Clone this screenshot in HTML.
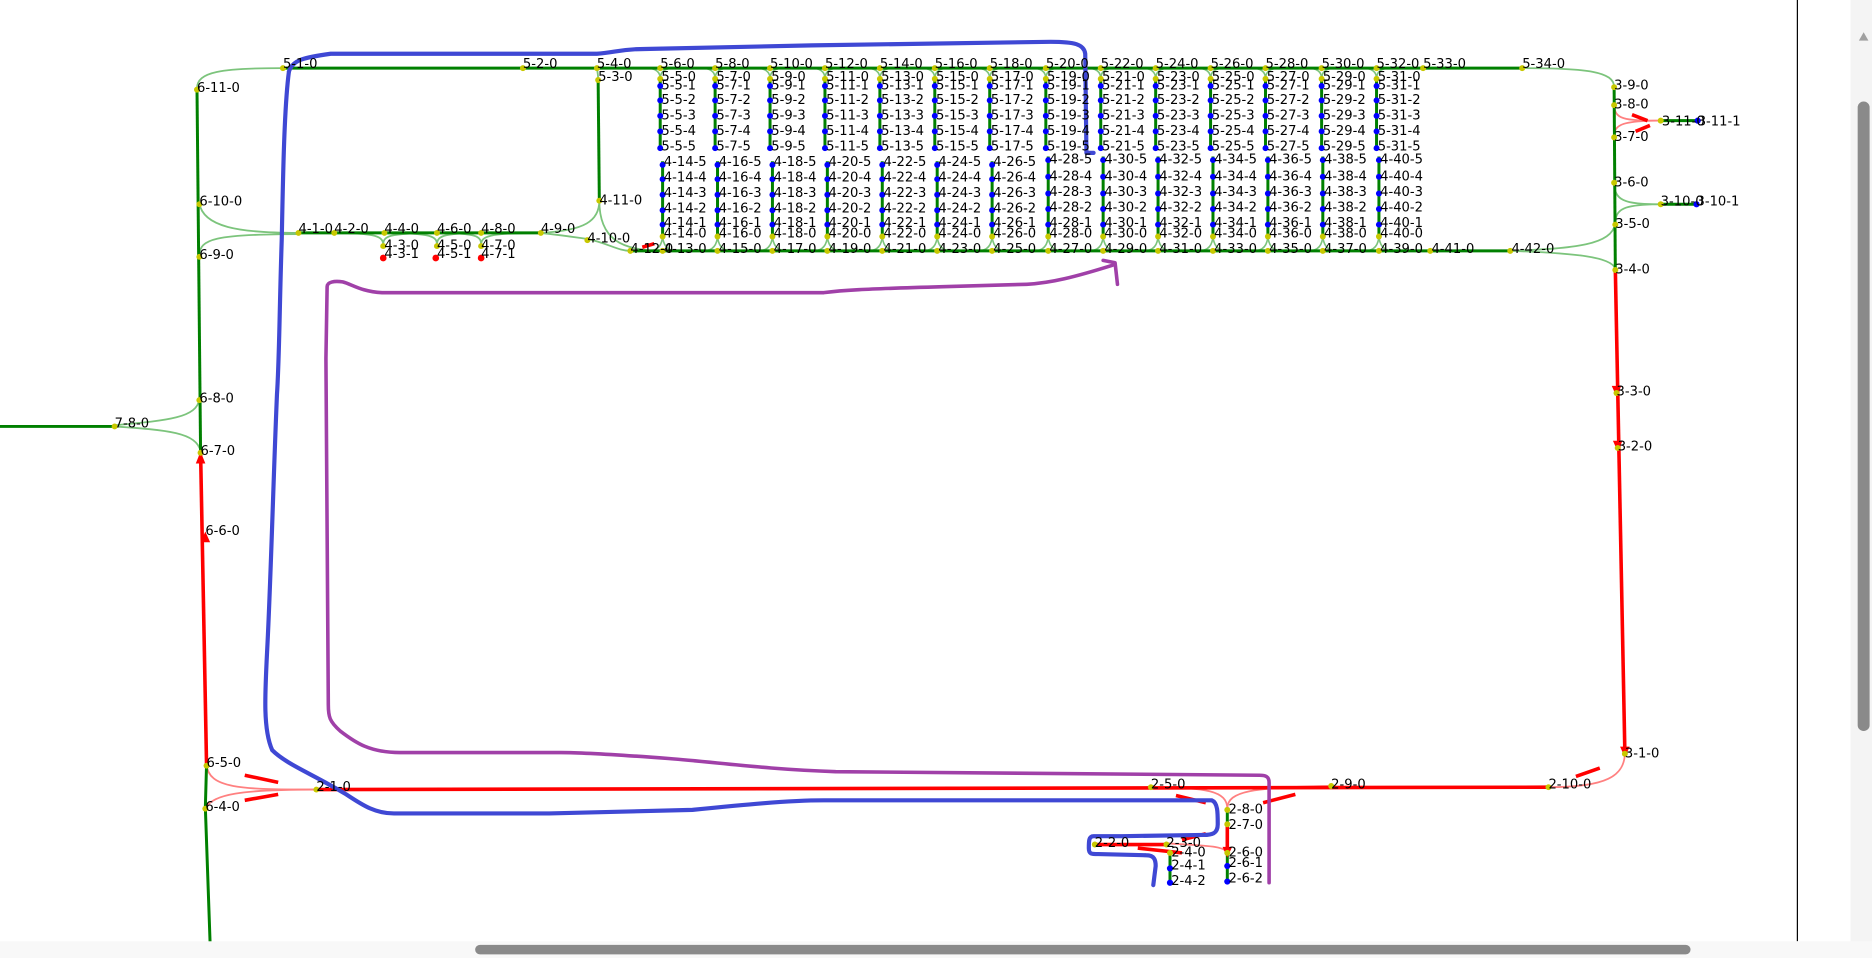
<!DOCTYPE html>
<html><head><meta charset="utf-8"><style>
html,body{margin:0;padding:0;background:#fff;width:1872px;height:958px;overflow:hidden}
svg{display:block}
text{font-family:"DejaVu Sans","Liberation Sans",sans-serif;font-size:11px;fill:#000}
</style></head><body>
<svg width="1872" height="958" viewBox="0 0 1568 802" preserveAspectRatio="none">
<rect x="0" y="0" width="1568" height="802" fill="#fff"/>
<g fill="none" stroke="#7cc47c" stroke-width="1.5">
<path d="M237,57 C185,57 165,60 165,74"/>
<path d="M167,170 C170,190 200,195 250,195"/>
<path d="M167,214 C167,200 180,196 250,196"/>
<path d="M96,356 C140,352 165,350 167,334"/>
<path d="M96,357 C140,360 165,362 168,378"/>
<path d="M453,195 C490,193 502,185 502,168"/>
<path d="M453,195 C480,198 490,200 492,200 C510,204 518,210 528,210"/>
<path d="M502,168 C502,200 520,210 555,210"/>
<path d="M500,57 C500,58 501,62 501,66"/>
<path d="M280,195 C315,195 321,198 321,205"/><path d="M366,195 C324,195 321,198 321,205"/>
<path d="M322,195 C362,195 366,198 366,205"/><path d="M403,195 C370,195 366,198 366,205"/>
<path d="M366,195 C400,195 403,198 403,205"/><path d="M453,195 C408,195 403,198 403,205"/>
<path d="M1275,57 C1330,57 1352,60 1352,73"/>
<path d="M1265,210 C1320,208 1350,205 1353,187"/>
<path d="M1265,210 C1320,212 1350,215 1353,225"/>
<path d="M1352,152 C1352,168 1360,171 1391,171"/>
<path d="M1353,187 C1353,175 1360,171 1391,171"/>
</g>
<g fill="none" stroke="#7cc47c" stroke-width="1.3">
<path d="M541,57 Q553,57 553,66"/><path d="M587,57 Q599,57 599,66"/><path d="M633,57 Q645,57 645,66"/><path d="M679,57 Q691,57 691,66"/><path d="M725,57 Q737,57 737,66"/><path d="M771,57 Q783,57 783,66"/><path d="M817,57 Q829,57 829,66"/><path d="M864,57 Q876,57 876,66"/><path d="M910,57 Q922,57 922,66"/><path d="M956,57 Q968,57 968,66"/><path d="M1002,57 Q1014,57 1014,66"/><path d="M1048,57 Q1060,57 1060,66"/><path d="M1095,57 Q1107,57 1107,66"/><path d="M1141,57 Q1153,57 1153,66"/>
<path d="M565,57 Q553,57 553,66"/><path d="M611,57 Q599,57 599,66"/><path d="M657,57 Q645,57 645,66"/><path d="M703,57 Q691,57 691,66"/><path d="M749,57 Q737,57 737,66"/><path d="M795,57 Q783,57 783,66"/><path d="M841,57 Q829,57 829,66"/><path d="M888,57 Q876,57 876,66"/><path d="M934,57 Q922,57 922,66"/><path d="M980,57 Q968,57 968,66"/><path d="M1026,57 Q1014,57 1014,66"/><path d="M1072,57 Q1060,57 1060,66"/><path d="M1119,57 Q1107,57 1107,66"/><path d="M1165,57 Q1153,57 1153,66"/>
<path d="M543,210 Q555,210 555,196"/><path d="M589,210 Q601,210 601,196"/><path d="M635,210 Q647,210 647,196"/><path d="M681,210 Q693,210 693,196"/><path d="M727,210 Q739,210 739,196"/><path d="M773,210 Q785,210 785,196"/><path d="M819,210 Q831,210 831,196"/><path d="M866,210 Q878,210 878,196"/><path d="M912,210 Q924,210 924,196"/><path d="M958,210 Q970,210 970,196"/><path d="M1004,210 Q1016,210 1016,196"/><path d="M1050,210 Q1062,210 1062,196"/><path d="M1096,210 Q1108,210 1108,196"/><path d="M1143,210 Q1155,210 1155,196"/>
<path d="M567,210 Q555,210 555,196"/><path d="M613,210 Q601,210 601,196"/><path d="M659,210 Q647,210 647,196"/><path d="M705,210 Q693,210 693,196"/><path d="M751,210 Q739,210 739,196"/><path d="M797,210 Q785,210 785,196"/><path d="M843,210 Q831,210 831,196"/><path d="M890,210 Q878,210 878,196"/><path d="M936,210 Q924,210 924,196"/><path d="M982,210 Q970,210 970,196"/><path d="M1028,210 Q1016,210 1016,196"/><path d="M1074,210 Q1062,210 1062,196"/><path d="M1120,210 Q1108,210 1108,196"/><path d="M1167,210 Q1155,210 1155,196"/>
</g>
<g fill="none" stroke="#ff8080" stroke-width="1.5">
<path d="M173,640 C175,660 200,661 265,661"/>
<path d="M172,676 C180,665 200,661 265,661"/>
<path d="M1361,630 C1361,650 1345,659 1297,659"/>
<path d="M964,659 C1010,659 1028,662 1028,677"/>
<path d="M1115,658 C1050,659 1028,662 1028,677"/>
<path d="M977,706 C1010,708 1028,708 1028,715"/>
<path d="M1352,87 C1352,100 1360,101 1391,101"/>
<path d="M1352,114 C1352,104 1360,101 1391,101"/>
</g>
<g fill="none" stroke="#008000" stroke-width="2.5">
<path d="M237,57 L1275,57"/>
<path d="M165,74 L168,378"/>
<path d="M173,640 L172,676 L176,790"/>
<path d="M0,357 L96,357"/>
<path d="M250,195 L453,195"/>
<path d="M501,66 L502,168"/>
<path d="M528,210 L1265,210"/>
<path d="M1352,73 L1353,225"/>
<path d="M1391,101 L1422,101"/><path d="M1391,171 L1421,171"/>
<path d="M1028,677 L1028,690"/><path d="M1028,715 L1028,738"/><path d="M980,714 L980,739"/>
<path d="M553,66V124M599,66V124M645,66V124M691,66V124M737,66V124M783,66V124M829,66V124M876,66V124M922,66V124M968,66V124M1014,66V124M1060,66V124M1107,66V124M1153,66V124"/>
<path d="M555,135V196M601,135V196M647,135V196M693,135V196M739,135V196M785,135V196M831,135V196M878,131V196M924,131V196M970,131V196M1016,131V196M1062,131V196M1108,131V196M1155,131V196"/>
</g>
<g fill="none" stroke="#ff0000" stroke-width="3">
<path d="M173,640 L168,378"/>
<path d="M1353,225 L1361,630"/>
<path d="M265,661 L1297,659"/>
<path d="M1028,690 L1028,715"/>
<path d="M917,707 L977,707"/>
<path d="M205,649 L233,655"/><path d="M205,670 L233,665"/>
<path d="M1320,650 L1340,643"/>
<path d="M985,666 L1010,672"/><path d="M1058,672 L1085,665"/>
<path d="M953,710 L990,714"/><path d="M990,703 L1010,698"/>
<path d="M1367,96 L1380,101"/><path d="M1370,110 L1382,105"/>
<path d="M538,207 L548,204"/>
</g>
<g fill="#ff0000">
<path d="M168,378 l-4,10 l8,0z"/><path d="M172,445 l-4,9 l8,0z"/>
<path d="M1354,332 l-4,-9 l8,0z"/><path d="M1355,378 l-4,-9 l8,0z"/><path d="M1361,634 l-4,-9 l8,0z"/>
<path d="M1028,718 l-4,-9 l8,0z"/>
<circle cx="321" cy="216" r="2.8"/><circle cx="365" cy="216" r="2.8"/><circle cx="403" cy="216" r="2.8"/>
</g>
<g fill="none" stroke="#3f48d4" stroke-width="3.5" stroke-linejoin="round" stroke-linecap="round">
<path d="M242,60 C238,90 237,150 236,200 C234,260 234,300 232,330 C229,400 227,480 224,540 C222,580 220,610 228,628 C240,640 262,648 290,665 C305,675 315,681 330,681 L460,681 L580,678 C620,674 660,670 690,670 L1015,670 C1020,672 1020,680 1020,690 C1020,698 1015,699 1008,699 L940,700 L916,700 C912,700 912,704 912,710 C912,715 914,715 920,715 L960,716 C967,716 968,720 968,725 L966,741"/>
<path d="M242,60 C245,50 255,48 277,45 L500,45 C515,44 520,41 540,41 L680,38 L880,35 C900,35 908,37 909,45 L910,128 L916,128"/>
</g>
<g fill="none" stroke="#a040a8" stroke-width="3" stroke-linejoin="round" stroke-linecap="round">
<path d="M1063,739 L1063,655 C1063,650 1060,649 1055,649 L700,646 C640,644 600,638 560,635 C520,632 490,630 470,630 L335,630 C310,630 298,622 285,612 C276,604 275,600 275,590 L273,300 L274,240 C274,236 280,235 287,236 C295,238 302,244 320,245 L690,245 C705,243 720,242 790,240 L860,238 C880,237 900,232 932,222"/>
<path d="M924,218 L934,220 L936,238"/>
</g>
<g fill="#c8c800">
<circle cx="237" cy="57" r="2.5"/><circle cx="438" cy="57" r="2.5"/><circle cx="500" cy="57" r="2.5"/><circle cx="501" cy="67" r="2.5"/>
<circle cx="553" cy="57" r="2.5"/><circle cx="599" cy="57" r="2.5"/><circle cx="645" cy="57" r="2.5"/><circle cx="691" cy="57" r="2.5"/><circle cx="737" cy="57" r="2.5"/><circle cx="783" cy="57" r="2.5"/><circle cx="829" cy="57" r="2.5"/><circle cx="876" cy="57" r="2.5"/><circle cx="922" cy="57" r="2.5"/><circle cx="968" cy="57" r="2.5"/><circle cx="1014" cy="57" r="2.5"/><circle cx="1060" cy="57" r="2.5"/><circle cx="1107" cy="57" r="2.5"/><circle cx="1153" cy="57" r="2.5"/><circle cx="1192" cy="57" r="2.5"/><circle cx="1275" cy="57" r="2.5"/>
<circle cx="553" cy="66" r="2.5"/><circle cx="599" cy="66" r="2.5"/><circle cx="645" cy="66" r="2.5"/><circle cx="691" cy="66" r="2.5"/><circle cx="737" cy="66" r="2.5"/><circle cx="783" cy="66" r="2.5"/><circle cx="829" cy="66" r="2.5"/><circle cx="876" cy="66" r="2.5"/><circle cx="922" cy="66" r="2.5"/><circle cx="968" cy="66" r="2.5"/><circle cx="1014" cy="66" r="2.5"/><circle cx="1060" cy="66" r="2.5"/><circle cx="1107" cy="66" r="2.5"/><circle cx="1153" cy="66" r="2.5"/>
<circle cx="555" cy="198" r="2.5"/><circle cx="601" cy="198" r="2.5"/><circle cx="647" cy="198" r="2.5"/><circle cx="693" cy="198" r="2.5"/><circle cx="739" cy="198" r="2.5"/><circle cx="785" cy="198" r="2.5"/><circle cx="831" cy="198" r="2.5"/><circle cx="878" cy="198" r="2.5"/><circle cx="924" cy="198" r="2.5"/><circle cx="970" cy="198" r="2.5"/><circle cx="1016" cy="198" r="2.5"/><circle cx="1062" cy="198" r="2.5"/><circle cx="1108" cy="198" r="2.5"/><circle cx="1155" cy="198" r="2.5"/>
<circle cx="528" cy="210" r="2.5"/><circle cx="555" cy="210" r="2.5"/><circle cx="601" cy="210" r="2.5"/><circle cx="647" cy="210" r="2.5"/><circle cx="693" cy="210" r="2.5"/><circle cx="739" cy="210" r="2.5"/><circle cx="785" cy="210" r="2.5"/><circle cx="831" cy="210" r="2.5"/><circle cx="878" cy="210" r="2.5"/><circle cx="924" cy="210" r="2.5"/><circle cx="970" cy="210" r="2.5"/><circle cx="1016" cy="210" r="2.5"/><circle cx="1062" cy="210" r="2.5"/><circle cx="1108" cy="210" r="2.5"/><circle cx="1155" cy="210" r="2.5"/><circle cx="1198" cy="210" r="2.5"/><circle cx="1265" cy="210" r="2.5"/>
<circle cx="165" cy="75" r="2.5"/><circle cx="167" cy="171" r="2.5"/><circle cx="167" cy="215" r="2.5"/><circle cx="167" cy="335" r="2.5"/><circle cx="168" cy="379" r="2.5"/><circle cx="96" cy="357" r="2.5"/>
<circle cx="173" cy="641" r="2.5"/><circle cx="172" cy="677" r="2.5"/>
<circle cx="250" cy="195" r="2.5"/><circle cx="280" cy="195" r="2.5"/><circle cx="322" cy="195" r="2.5"/><circle cx="366" cy="195" r="2.5"/><circle cx="403" cy="195" r="2.5"/><circle cx="453" cy="195" r="2.5"/>
<circle cx="321" cy="206" r="2.5"/><circle cx="366" cy="206" r="2.5"/><circle cx="403" cy="206" r="2.5"/>
<circle cx="502" cy="168" r="2.5"/><circle cx="492" cy="201" r="2.5"/>
<circle cx="1352" cy="73" r="2.5"/><circle cx="1352" cy="88" r="2.5"/><circle cx="1352" cy="115" r="2.5"/><circle cx="1352" cy="153" r="2.5"/><circle cx="1353" cy="188" r="2.5"/><circle cx="1353" cy="226" r="2.5"/>
<circle cx="1391" cy="101" r="2.5"/><circle cx="1391" cy="171" r="2.5"/>
<circle cx="1354" cy="329" r="2.5"/><circle cx="1355" cy="375" r="2.5"/><circle cx="1361" cy="631" r="2.5"/>
<circle cx="265" cy="661" r="2.5"/><circle cx="964" cy="659" r="2.5"/><circle cx="1115" cy="658" r="2.5"/><circle cx="1297" cy="659" r="2.5"/>
<circle cx="1028" cy="678" r="2.5"/><circle cx="1028" cy="690" r="2.5"/><circle cx="1028" cy="714" r="2.5"/>
<circle cx="917" cy="707" r="2.5"/><circle cx="977" cy="707" r="2.5"/><circle cx="980" cy="714" r="2.5"/>
</g>
<g fill="#0000ff">
<circle cx="1422" cy="101" r="2.6"/><circle cx="1421" cy="171" r="2.6"/>
<circle cx="1028" cy="725" r="2.6"/><circle cx="1028" cy="738" r="2.6"/><circle cx="980" cy="727" r="2.6"/><circle cx="980" cy="739" r="2.6"/>
<circle cx="553" cy="72" r="2.5"/><circle cx="553" cy="84" r="2.5"/><circle cx="553" cy="97" r="2.5"/><circle cx="553" cy="110" r="2.5"/><circle cx="553" cy="124" r="2.5"/>
<circle cx="599" cy="72" r="2.5"/><circle cx="599" cy="84" r="2.5"/><circle cx="599" cy="97" r="2.5"/><circle cx="599" cy="110" r="2.5"/><circle cx="599" cy="124" r="2.5"/>
<circle cx="645" cy="72" r="2.5"/><circle cx="645" cy="84" r="2.5"/><circle cx="645" cy="97" r="2.5"/><circle cx="645" cy="110" r="2.5"/><circle cx="645" cy="124" r="2.5"/>
<circle cx="691" cy="72" r="2.5"/><circle cx="691" cy="84" r="2.5"/><circle cx="691" cy="97" r="2.5"/><circle cx="691" cy="110" r="2.5"/><circle cx="691" cy="124" r="2.5"/>
<circle cx="737" cy="72" r="2.5"/><circle cx="737" cy="84" r="2.5"/><circle cx="737" cy="97" r="2.5"/><circle cx="737" cy="110" r="2.5"/><circle cx="737" cy="124" r="2.5"/>
<circle cx="783" cy="72" r="2.5"/><circle cx="783" cy="84" r="2.5"/><circle cx="783" cy="97" r="2.5"/><circle cx="783" cy="110" r="2.5"/><circle cx="783" cy="124" r="2.5"/>
<circle cx="829" cy="72" r="2.5"/><circle cx="829" cy="84" r="2.5"/><circle cx="829" cy="97" r="2.5"/><circle cx="829" cy="110" r="2.5"/><circle cx="829" cy="124" r="2.5"/>
<circle cx="876" cy="72" r="2.5"/><circle cx="876" cy="84" r="2.5"/><circle cx="876" cy="97" r="2.5"/><circle cx="876" cy="110" r="2.5"/><circle cx="876" cy="124" r="2.5"/>
<circle cx="922" cy="72" r="2.5"/><circle cx="922" cy="84" r="2.5"/><circle cx="922" cy="97" r="2.5"/><circle cx="922" cy="110" r="2.5"/><circle cx="922" cy="124" r="2.5"/>
<circle cx="968" cy="72" r="2.5"/><circle cx="968" cy="84" r="2.5"/><circle cx="968" cy="97" r="2.5"/><circle cx="968" cy="110" r="2.5"/><circle cx="968" cy="124" r="2.5"/>
<circle cx="1014" cy="72" r="2.5"/><circle cx="1014" cy="84" r="2.5"/><circle cx="1014" cy="97" r="2.5"/><circle cx="1014" cy="110" r="2.5"/><circle cx="1014" cy="124" r="2.5"/>
<circle cx="1060" cy="72" r="2.5"/><circle cx="1060" cy="84" r="2.5"/><circle cx="1060" cy="97" r="2.5"/><circle cx="1060" cy="110" r="2.5"/><circle cx="1060" cy="124" r="2.5"/>
<circle cx="1107" cy="72" r="2.5"/><circle cx="1107" cy="84" r="2.5"/><circle cx="1107" cy="97" r="2.5"/><circle cx="1107" cy="110" r="2.5"/><circle cx="1107" cy="124" r="2.5"/>
<circle cx="1153" cy="72" r="2.5"/><circle cx="1153" cy="84" r="2.5"/><circle cx="1153" cy="97" r="2.5"/><circle cx="1153" cy="110" r="2.5"/><circle cx="1153" cy="124" r="2.5"/>
<circle cx="555" cy="138" r="2.5"/><circle cx="555" cy="150" r="2.5"/><circle cx="555" cy="163" r="2.5"/><circle cx="555" cy="176" r="2.5"/><circle cx="555" cy="188" r="2.5"/>
<circle cx="601" cy="138" r="2.5"/><circle cx="601" cy="150" r="2.5"/><circle cx="601" cy="163" r="2.5"/><circle cx="601" cy="176" r="2.5"/><circle cx="601" cy="188" r="2.5"/>
<circle cx="647" cy="138" r="2.5"/><circle cx="647" cy="150" r="2.5"/><circle cx="647" cy="163" r="2.5"/><circle cx="647" cy="176" r="2.5"/><circle cx="647" cy="188" r="2.5"/>
<circle cx="693" cy="138" r="2.5"/><circle cx="693" cy="150" r="2.5"/><circle cx="693" cy="163" r="2.5"/><circle cx="693" cy="176" r="2.5"/><circle cx="693" cy="188" r="2.5"/>
<circle cx="739" cy="138" r="2.5"/><circle cx="739" cy="150" r="2.5"/><circle cx="739" cy="163" r="2.5"/><circle cx="739" cy="176" r="2.5"/><circle cx="739" cy="188" r="2.5"/>
<circle cx="785" cy="138" r="2.5"/><circle cx="785" cy="150" r="2.5"/><circle cx="785" cy="163" r="2.5"/><circle cx="785" cy="176" r="2.5"/><circle cx="785" cy="188" r="2.5"/>
<circle cx="831" cy="138" r="2.5"/><circle cx="831" cy="150" r="2.5"/><circle cx="831" cy="163" r="2.5"/><circle cx="831" cy="176" r="2.5"/><circle cx="831" cy="188" r="2.5"/>
<circle cx="878" cy="134" r="2.5"/><circle cx="878" cy="148" r="2.5"/><circle cx="878" cy="162" r="2.5"/><circle cx="878" cy="175" r="2.5"/><circle cx="878" cy="188" r="2.5"/>
<circle cx="924" cy="134" r="2.5"/><circle cx="924" cy="148" r="2.5"/><circle cx="924" cy="162" r="2.5"/><circle cx="924" cy="175" r="2.5"/><circle cx="924" cy="188" r="2.5"/>
<circle cx="970" cy="134" r="2.5"/><circle cx="970" cy="148" r="2.5"/><circle cx="970" cy="162" r="2.5"/><circle cx="970" cy="175" r="2.5"/><circle cx="970" cy="188" r="2.5"/>
<circle cx="1016" cy="134" r="2.5"/><circle cx="1016" cy="148" r="2.5"/><circle cx="1016" cy="162" r="2.5"/><circle cx="1016" cy="175" r="2.5"/><circle cx="1016" cy="188" r="2.5"/>
<circle cx="1062" cy="134" r="2.5"/><circle cx="1062" cy="148" r="2.5"/><circle cx="1062" cy="162" r="2.5"/><circle cx="1062" cy="175" r="2.5"/><circle cx="1062" cy="188" r="2.5"/>
<circle cx="1108" cy="134" r="2.5"/><circle cx="1108" cy="148" r="2.5"/><circle cx="1108" cy="162" r="2.5"/><circle cx="1108" cy="175" r="2.5"/><circle cx="1108" cy="188" r="2.5"/>
<circle cx="1155" cy="134" r="2.5"/><circle cx="1155" cy="148" r="2.5"/><circle cx="1155" cy="162" r="2.5"/><circle cx="1155" cy="175" r="2.5"/><circle cx="1155" cy="188" r="2.5"/>
</g>
<g>
<text x="237" y="57">5-1-0</text><text x="438" y="57">5-2-0</text><text x="500" y="57">5-4-0</text><text x="501" y="68">5-3-0</text>
<text x="553" y="57">5-6-0</text><text x="599" y="57">5-8-0</text><text x="645" y="57">5-10-0</text><text x="691" y="57">5-12-0</text><text x="737" y="57">5-14-0</text><text x="783" y="57">5-16-0</text><text x="829" y="57">5-18-0</text><text x="876" y="57">5-20-0</text><text x="922" y="57">5-22-0</text><text x="968" y="57">5-24-0</text><text x="1014" y="57">5-26-0</text><text x="1060" y="57">5-28-0</text><text x="1107" y="57">5-30-0</text><text x="1153" y="57">5-32-0</text><text x="1192" y="57">5-33-0</text><text x="1275" y="57">5-34-0</text>
<text x="165" y="77">6-11-0</text><text x="167" y="172">6-10-0</text><text x="167" y="217">6-9-0</text><text x="167" y="337">6-8-0</text><text x="168" y="381">6-7-0</text><text x="172" y="448">6-6-0</text><text x="96" y="358">7-8-0</text>
<text x="173" y="642">6-5-0</text><text x="172" y="679">6-4-0</text>
<text x="250" y="195">4-1-0</text><text x="280" y="195">4-2-0</text><text x="322" y="195">4-4-0</text><text x="366" y="195">4-6-0</text><text x="403" y="195">4-8-0</text><text x="453" y="195">4-9-0</text>
<text x="322" y="209">4-3-0</text><text x="322" y="216">4-3-1</text><text x="366" y="209">4-5-0</text><text x="366" y="216">4-5-1</text><text x="403" y="209">4-7-0</text><text x="403" y="216">4-7-1</text>
<text x="502" y="171">4-11-0</text><text x="492" y="203">4-10-0</text><text x="528" y="212">4-12-0</text>
</g>
<g>
<text x="554" y="68">5-5-0</text><text x="554" y="75">5-5-1</text><text x="554" y="87">5-5-2</text><text x="554" y="100">5-5-3</text><text x="554" y="113">5-5-4</text><text x="554" y="126">5-5-5</text>
<text x="600" y="68">5-7-0</text><text x="600" y="75">5-7-1</text><text x="600" y="87">5-7-2</text><text x="600" y="100">5-7-3</text><text x="600" y="113">5-7-4</text><text x="600" y="126">5-7-5</text>
<text x="646" y="68">5-9-0</text><text x="646" y="75">5-9-1</text><text x="646" y="87">5-9-2</text><text x="646" y="100">5-9-3</text><text x="646" y="113">5-9-4</text><text x="646" y="126">5-9-5</text>
<text x="692" y="68">5-11-0</text><text x="692" y="75">5-11-1</text><text x="692" y="87">5-11-2</text><text x="692" y="100">5-11-3</text><text x="692" y="113">5-11-4</text><text x="692" y="126">5-11-5</text>
<text x="738" y="68">5-13-0</text><text x="738" y="75">5-13-1</text><text x="738" y="87">5-13-2</text><text x="738" y="100">5-13-3</text><text x="738" y="113">5-13-4</text><text x="738" y="126">5-13-5</text>
<text x="784" y="68">5-15-0</text><text x="784" y="75">5-15-1</text><text x="784" y="87">5-15-2</text><text x="784" y="100">5-15-3</text><text x="784" y="113">5-15-4</text><text x="784" y="126">5-15-5</text>
<text x="830" y="68">5-17-0</text><text x="830" y="75">5-17-1</text><text x="830" y="87">5-17-2</text><text x="830" y="100">5-17-3</text><text x="830" y="113">5-17-4</text><text x="830" y="126">5-17-5</text>
<text x="877" y="68">5-19-0</text><text x="877" y="75">5-19-1</text><text x="877" y="87">5-19-2</text><text x="877" y="100">5-19-3</text><text x="877" y="113">5-19-4</text><text x="877" y="126">5-19-5</text>
<text x="923" y="68">5-21-0</text><text x="923" y="75">5-21-1</text><text x="923" y="87">5-21-2</text><text x="923" y="100">5-21-3</text><text x="923" y="113">5-21-4</text><text x="923" y="126">5-21-5</text>
<text x="969" y="68">5-23-0</text><text x="969" y="75">5-23-1</text><text x="969" y="87">5-23-2</text><text x="969" y="100">5-23-3</text><text x="969" y="113">5-23-4</text><text x="969" y="126">5-23-5</text>
<text x="1015" y="68">5-25-0</text><text x="1015" y="75">5-25-1</text><text x="1015" y="87">5-25-2</text><text x="1015" y="100">5-25-3</text><text x="1015" y="113">5-25-4</text><text x="1015" y="126">5-25-5</text>
<text x="1061" y="68">5-27-0</text><text x="1061" y="75">5-27-1</text><text x="1061" y="87">5-27-2</text><text x="1061" y="100">5-27-3</text><text x="1061" y="113">5-27-4</text><text x="1061" y="126">5-27-5</text>
<text x="1108" y="68">5-29-0</text><text x="1108" y="75">5-29-1</text><text x="1108" y="87">5-29-2</text><text x="1108" y="100">5-29-3</text><text x="1108" y="113">5-29-4</text><text x="1108" y="126">5-29-5</text>
<text x="1154" y="68">5-31-0</text><text x="1154" y="75">5-31-1</text><text x="1154" y="87">5-31-2</text><text x="1154" y="100">5-31-3</text><text x="1154" y="113">5-31-4</text><text x="1154" y="126">5-31-5</text>
</g>
<g>
<text x="556" y="139">4-14-5</text><text x="556" y="152">4-14-4</text><text x="556" y="165">4-14-3</text><text x="556" y="178">4-14-2</text><text x="556" y="190">4-14-1</text><text x="556" y="199">4-14-0</text>
<text x="602" y="139">4-16-5</text><text x="602" y="152">4-16-4</text><text x="602" y="165">4-16-3</text><text x="602" y="178">4-16-2</text><text x="602" y="190">4-16-1</text><text x="602" y="199">4-16-0</text>
<text x="648" y="139">4-18-5</text><text x="648" y="152">4-18-4</text><text x="648" y="165">4-18-3</text><text x="648" y="178">4-18-2</text><text x="648" y="190">4-18-1</text><text x="648" y="199">4-18-0</text>
<text x="694" y="139">4-20-5</text><text x="694" y="152">4-20-4</text><text x="694" y="165">4-20-3</text><text x="694" y="178">4-20-2</text><text x="694" y="190">4-20-1</text><text x="694" y="199">4-20-0</text>
<text x="740" y="139">4-22-5</text><text x="740" y="152">4-22-4</text><text x="740" y="165">4-22-3</text><text x="740" y="178">4-22-2</text><text x="740" y="190">4-22-1</text><text x="740" y="199">4-22-0</text>
<text x="786" y="139">4-24-5</text><text x="786" y="152">4-24-4</text><text x="786" y="165">4-24-3</text><text x="786" y="178">4-24-2</text><text x="786" y="190">4-24-1</text><text x="786" y="199">4-24-0</text>
<text x="832" y="139">4-26-5</text><text x="832" y="152">4-26-4</text><text x="832" y="165">4-26-3</text><text x="832" y="178">4-26-2</text><text x="832" y="190">4-26-1</text><text x="832" y="199">4-26-0</text>
<text x="879" y="137">4-28-5</text><text x="879" y="151">4-28-4</text><text x="879" y="164">4-28-3</text><text x="879" y="177">4-28-2</text><text x="879" y="190">4-28-1</text><text x="879" y="199">4-28-0</text>
<text x="925" y="137">4-30-5</text><text x="925" y="151">4-30-4</text><text x="925" y="164">4-30-3</text><text x="925" y="177">4-30-2</text><text x="925" y="190">4-30-1</text><text x="925" y="199">4-30-0</text>
<text x="971" y="137">4-32-5</text><text x="971" y="151">4-32-4</text><text x="971" y="164">4-32-3</text><text x="971" y="177">4-32-2</text><text x="971" y="190">4-32-1</text><text x="971" y="199">4-32-0</text>
<text x="1017" y="137">4-34-5</text><text x="1017" y="151">4-34-4</text><text x="1017" y="164">4-34-3</text><text x="1017" y="177">4-34-2</text><text x="1017" y="190">4-34-1</text><text x="1017" y="199">4-34-0</text>
<text x="1063" y="137">4-36-5</text><text x="1063" y="151">4-36-4</text><text x="1063" y="164">4-36-3</text><text x="1063" y="177">4-36-2</text><text x="1063" y="190">4-36-1</text><text x="1063" y="199">4-36-0</text>
<text x="1109" y="137">4-38-5</text><text x="1109" y="151">4-38-4</text><text x="1109" y="164">4-38-3</text><text x="1109" y="177">4-38-2</text><text x="1109" y="190">4-38-1</text><text x="1109" y="199">4-38-0</text>
<text x="1156" y="137">4-40-5</text><text x="1156" y="151">4-40-4</text><text x="1156" y="164">4-40-3</text><text x="1156" y="177">4-40-2</text><text x="1156" y="190">4-40-1</text><text x="1156" y="199">4-40-0</text>
<text x="556" y="212">4-13-0</text><text x="602" y="212">4-15-0</text><text x="648" y="212">4-17-0</text><text x="694" y="212">4-19-0</text><text x="740" y="212">4-21-0</text><text x="786" y="212">4-23-0</text><text x="832" y="212">4-25-0</text><text x="879" y="212">4-27-0</text><text x="925" y="212">4-29-0</text><text x="971" y="212">4-31-0</text><text x="1017" y="212">4-33-0</text><text x="1063" y="212">4-35-0</text><text x="1109" y="212">4-37-0</text><text x="1156" y="212">4-39-0</text><text x="1199" y="212">4-41-0</text><text x="1266" y="212">4-42-0</text>
</g>
<g>
<text x="1352" y="75">3-9-0</text><text x="1352" y="91">3-8-0</text><text x="1352" y="118">3-7-0</text><text x="1392" y="105">3-11-0</text><text x="1422" y="105">3-11-1</text>
<text x="1352" y="156">3-6-0</text><text x="1353" y="191">3-5-0</text><text x="1391" y="172">3-10-0</text><text x="1421" y="172">3-10-1</text><text x="1353" y="229">3-4-0</text>
<text x="1354" y="331">3-3-0</text><text x="1355" y="377">3-2-0</text><text x="1361" y="634">3-1-0</text>
<text x="265" y="662">2-1-0</text><text x="964" y="660">2-5-0</text><text x="1115" y="660">2-9-0</text><text x="1297" y="660">2-10-0</text>
<text x="1029" y="681">2-8-0</text><text x="1029" y="694">2-7-0</text><text x="1029" y="717">2-6-0</text><text x="1029" y="726">2-6-1</text><text x="1029" y="739">2-6-2</text>
<text x="917" y="709">2-2-0</text><text x="977" y="709">2-3-0</text><text x="981" y="717">2-4-0</text><text x="981" y="728">2-4-1</text><text x="981" y="741">2-4-2</text>
</g>
<line x1="1505.5" y1="0" x2="1505.5" y2="788" stroke="#000" stroke-width="1"/>
<rect x="1550" y="0" width="18" height="802" fill="#f4f4f4"/>
<rect x="1556" y="85" width="10" height="527" rx="5" fill="#8a8a8a"/>
<path d="M1557,34 l4,-7 l4,7z" fill="#a0a0a0"/>
<rect x="0" y="788" width="1568" height="14" fill="#f8f8f8"/>
<rect x="398" y="791" width="1018" height="8" rx="4" fill="#8a8a8a"/>
</svg>
</body></html>
